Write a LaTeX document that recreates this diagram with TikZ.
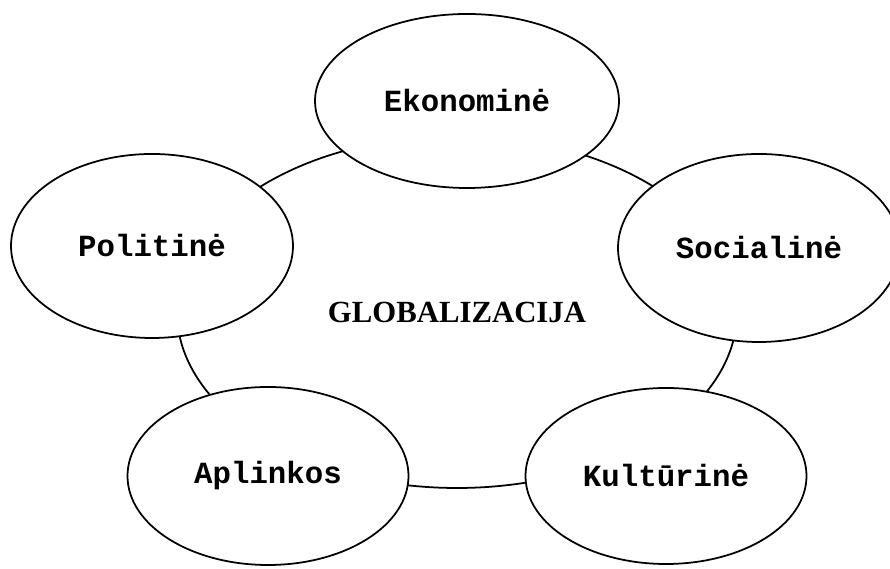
\documentclass[tikz,border=0pt]{standalone}
\usepackage{fontspec}
\setmainfont{Liberation Serif}
\newfontfamily\courfont{Liberation Mono}
\usetikzlibrary{shapes.geometric}

\begin{document}
\begin{tikzpicture}[
	sritis/.style={ellipse, draw, fill=white, line width=1pt, inner sep=0pt,
		font=\courfont\bfseries\fontsize{17.5}{20}\selectfont},
	centras/.style={ellipse, draw, line width=1pt, inner sep=0pt,
		font=\bfseries\fontsize{17.5}{20}\selectfont}]
	\useasboundingbox (0,0) rectangle (17.8,11.38);
	\node[centras, minimum width=11.2cm, minimum height=7.04cm] (glob) at (9.14,5.14) {GLOBALIZACIJA};
	\node[sritis, minimum width=6.08cm, minimum height=3.48cm] (eko) at (9.34,9.36) {Ekonominė};
	\node[sritis, minimum width=5.64cm, minimum height=3.76cm] (soc) at (15.18,6.42) {Socialinė};
	\node[sritis, minimum width=5.64cm, minimum height=3.68cm] (pol) at (3.04,6.46) {Politinė};
	\node[sritis, minimum width=5.62cm, minimum height=3.56cm] (apl) at (5.36,1.86) {Aplinkos};
	\node[sritis, minimum width=5.62cm, minimum height=3.52cm] (kul) at (13.32,1.86) {Kultūrinė};
\end{tikzpicture}
\end{document}
